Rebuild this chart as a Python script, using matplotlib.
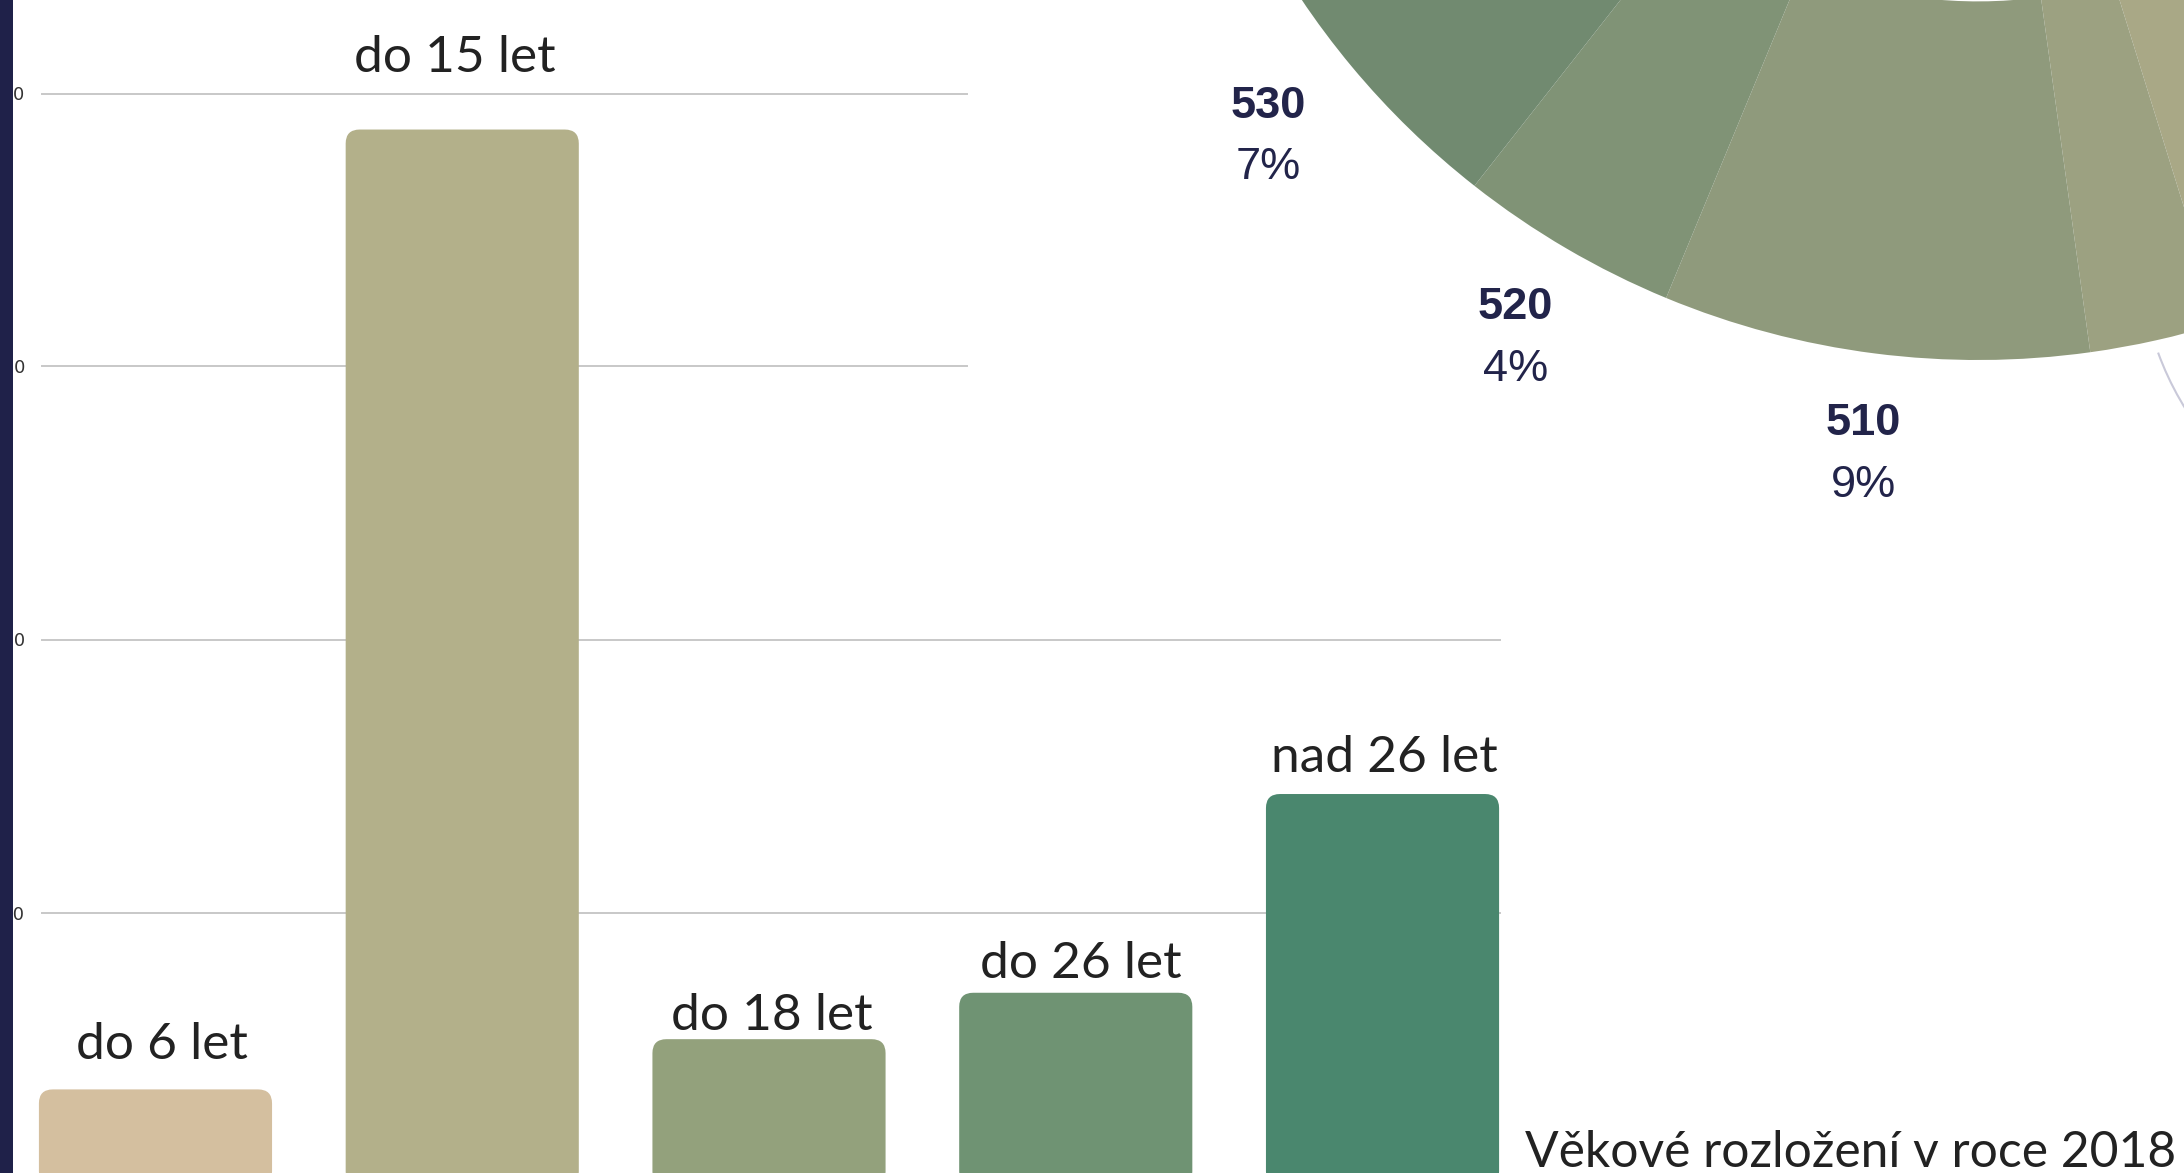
import numpy as np
import matplotlib
matplotlib.use("Agg")
import matplotlib.pyplot as plt
from matplotlib.patches import FancyBboxPatch, Rectangle, Arc

# bar chart data (age groups)
age_groups = ["do 6 let", "do 15 let", "do 18 let", "do 26 let", "nad 26 let"]
counts = [176, 1934, 268, 353, 717]
bar_colors = ["#d4bf9f", "#b3b08a", "#93a17c", "#6f9373", "#4a876e"]
grid_values = [500, 1000, 1500, 2000]
grid_labels = ["500", "1000", "1500", "2000"]

# donut data (shares in %, clockwise from the top), only part is visible
pie_codes = ["", "", "", "510", "520", "530", ""]
pie_shares = [39.2, 6.0, 2.6, 8.45, 4.35, 6.7, 32.7]
pie_pct = ["", "", "", "9%", "4%", "7%", ""]
pie_colors = ["#bdb38c", "#a9a886", "#9ca181", "#8f9a7c", "#809376", "#718a70", "#62836c"]

title = "Věkové rozložení v roce 2018"

W, H = 2184, 1173
fig = plt.figure(figsize=(W / 100, H / 100), dpi=100)
fig.patch.set_facecolor("white")

# ---- bar chart ----
ax_left, ax_right = 2.1, 1535.9
base_y = 1185.5            # pixel row of value 0 (just below the picture)
px_per_unit = 273 / 500
ymax = 2200
ax_h = ymax * px_per_unit
ax = fig.add_axes([ax_left / W, (H - base_y) / H, (ax_right - ax_left) / W, ax_h / H])
ax.set_xlim(-0.5, 4.5)
ax.set_ylim(0, ymax)
ax.patch.set_alpha(0)
for s in ax.spines.values():
    s.set_visible(False)
ax.set_xticks([])
ax.set_yticks(grid_values)
ax.set_yticklabels(grid_labels, fontsize=13, color="#333333")
ax.tick_params(axis="y", length=0, pad=-16.5)

grid_ends = [1500, 1500, 967, 967]
for g, xe in zip(grid_values, grid_ends):
    ax.axhline(g, xmin=(42 - ax_left) / (ax_right - ax_left),
               xmax=(xe - ax_left) / (ax_right - ax_left),
               color="#c8c8c8", lw=1.4, zorder=0)

x = np.arange(len(age_groups))
bars = ax.bar(x, counts, width=0.76, color=bar_colors, zorder=2)
px_per_x = (ax_right - ax_left) / 5
r_px = 14
rs = r_px / px_per_x
for b, c in zip(bars, bar_colors):
    fb = FancyBboxPatch((b.get_x(), b.get_y()), b.get_width(), b.get_height(),
                        boxstyle=f"round,pad=0,rounding_size={rs}",
                        mutation_aspect=px_per_x / px_per_unit,
                        facecolor=c, edgecolor="none", zorder=2)
    ax.add_patch(fb)
    b.remove()

# label offsets above each bar (px)
lab_dx = [6, -7, 3, 5, 2]
lab_dy = [30, 58, 9, 15, 22]
for i, (lab, v) in enumerate(zip(age_groups, counts)):
    ax.annotate(lab, xy=(i, v), xytext=(lab_dx[i] * 0.72, lab_dy[i] * 0.72),
                textcoords="offset points", ha="center", va="baseline",
                fontsize=37, color="#222222", family=["Lato", "DejaVu Sans"])

# ---- donut ----
cx, cy, R = 1978, -455, 815
side = 2.4 * R
ax2 = fig.add_axes([(cx - side / 2) / W, (H - cy - side / 2) / H, side / W, side / H])
wedges, _ = ax2.pie(pie_shares, colors=pie_colors, startangle=90, counterclock=False,
                    radius=1, wedgeprops=dict(width=1 - 0.56, linewidth=0))
ax2.set_xlim(-1.2, 1.2)
ax2.set_ylim(-1.2, 1.2)
ax2.axis("off")

lab_font = ["Liberation Sans", "DejaVu Sans"]
lab_r = {"510": 1.125, "520": 1.128, "530": 1.135}
for w, code, pct in zip(wedges, pie_codes, pie_pct):
    if not code:
        continue
    a = np.deg2rad((w.theta1 + w.theta2) / 2)
    px, py = lab_r[code] * np.cos(a), lab_r[code] * np.sin(a)
    ax2.annotate(code, xy=(px, py), xytext=(1, 22), textcoords="offset points",
                 ha="center", va="center", fontsize=32.5, fontweight="bold",
                 color="#22244a", family=lab_font)
    ax2.annotate(pct, xy=(px, py), xytext=(1, -22), textcoords="offset points",
                 ha="center", va="center", fontsize=32.5,
                 color="#22244a", family=lab_font)

# thin grey arc at the right edge
ax2.add_patch(Arc(((2440 - cx) / R, -(250 - cy) / R), 2 * 300 / R, 2 * 300 / R,
                  theta1=200, theta2=240, color="#c9c9d9", lw=1.5))

# title
fig.text(2176 / W, (H - 1167) / H, title, ha="right", va="baseline",
         fontsize=35.8, color="#222222", family=["Lato", "DejaVu Sans"])

# dark strip on the left edge
fig.patches.append(Rectangle((0, 0), 13 / W, 1, transform=fig.transFigure,
                             facecolor="#1f2149", edgecolor="none", zorder=10))

fig.savefig("out.png", dpi=100)
